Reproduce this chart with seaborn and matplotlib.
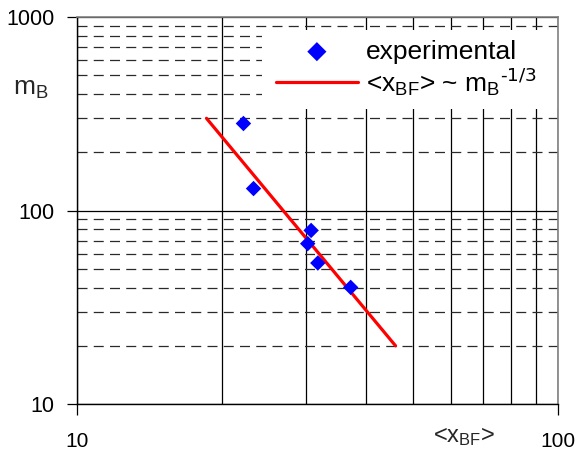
import matplotlib
matplotlib.use("Agg")
import matplotlib.pyplot as plt
import matplotlib.ticker as mticker
from matplotlib.patches import Rectangle
import seaborn as sns

sns.set_style("ticks")
plt.rcParams["font.family"] = ["Liberation Sans", "DejaVu Sans"]
plt.rcParams["mathtext.default"] = "regular"
plt.rcParams["axes.unicode_minus"] = False
plt.rcParams["text.color"] = "black"
plt.rcParams["xtick.color"] = "black"
plt.rcParams["ytick.color"] = "black"

# experimental points
x_bf = [22.2, 23.3, 30.7, 30.2, 31.7, 37.1]
m_b = [282, 130, 79, 67.5, 53.6, 40.1]

# fitted power law <x_BF> ~ m_B^-1/3
fit_x = [18.6, 46.0]
fit_y = [300, 20]

fig = plt.figure(figsize=(5.78, 4.51), dpi=100)
ax = fig.add_axes([0.133, 0.104, 0.832, 0.858])

ax.set_xscale("log")
ax.set_yscale("log")
ax.set_xlim(10, 100)
ax.set_ylim(10, 1000)

sns.lineplot(x=fit_x, y=fit_y, ax=ax, color="red", lw=2.3,
             label=r"<x$_{BF}$> ~ m$_B$$^{\text{-1/3}}$", zorder=3)
sns.scatterplot(x=x_bf, y=m_b, ax=ax, marker="D", s=62, color="blue",
                edgecolor="none", label="experimental", zorder=4)

# grid: solid verticals, dashed minor horizontals
ax.xaxis.set_minor_locator(mticker.LogLocator(base=10, subs=range(2, 10)))
ax.yaxis.set_minor_locator(mticker.LogLocator(base=10, subs=range(2, 10)))
ax.xaxis.set_minor_formatter(mticker.NullFormatter())
ax.yaxis.set_minor_formatter(mticker.NullFormatter())
ax.xaxis.set_major_formatter(mticker.FuncFormatter(lambda v, p: f"{v:g}"))
ax.yaxis.set_major_formatter(mticker.FuncFormatter(lambda v, p: f"{v:g}"))
ax.grid(False)
ax.xaxis.grid(True, which="both", color="black", lw=0.9, ls="-")
ax.yaxis.grid(True, which="major", color="black", lw=0.9, ls="-")
ax.yaxis.grid(True, which="minor", color="#2a2a2a", lw=0.9, ls=(0, (8, 5)))
ax.set_axisbelow(True)

ax.tick_params(which="minor", length=0)
ax.tick_params(axis="y", which="major", direction="out", length=7, width=0.9,
               labelsize=15.5, pad=9, left=True)
ax.tick_params(axis="x", which="major", direction="out", length=8, width=0.9,
               labelsize=15, pad=12, bottom=True)

for side in ["left", "bottom"]:
    ax.spines[side].set_color("black")
    ax.spines[side].set_linewidth(1.0)
for side in ["top", "right"]:
    ax.spines[side].set_visible(True)
    ax.spines[side].set_color("#808080")
    ax.spines[side].set_linewidth(1.2)

ax.set_xlabel("<x$_{BF}$>", fontsize=17)
ax.set_ylabel("m$_B$", fontsize=19, rotation=0)
ax.xaxis.set_label_coords(0.805, -0.085)
ax.yaxis.set_label_coords(-0.095, 0.815)
ax.xaxis.label.set_va("center")
ax.yaxis.label.set_va("center")

# white legend background reaching the right edge
ax.add_patch(Rectangle((0.385, 0.762), 0.615, 0.204, transform=ax.transAxes,
                       facecolor="white", edgecolor="none", zorder=2))

handles, labels = ax.get_legend_handles_labels()
leg = ax.legend(handles[::-1], labels[::-1], loc="upper left",
                bbox_to_anchor=(0.414, 0.942), borderaxespad=0, fontsize=19,
                frameon=False, handlelength=3.1, handletextpad=0.3,
                labelspacing=0.08, borderpad=0)
leg.set_zorder(5)
leg.legend_handles[0].set_sizes([95])

fig.savefig("out.png", dpi=100)
